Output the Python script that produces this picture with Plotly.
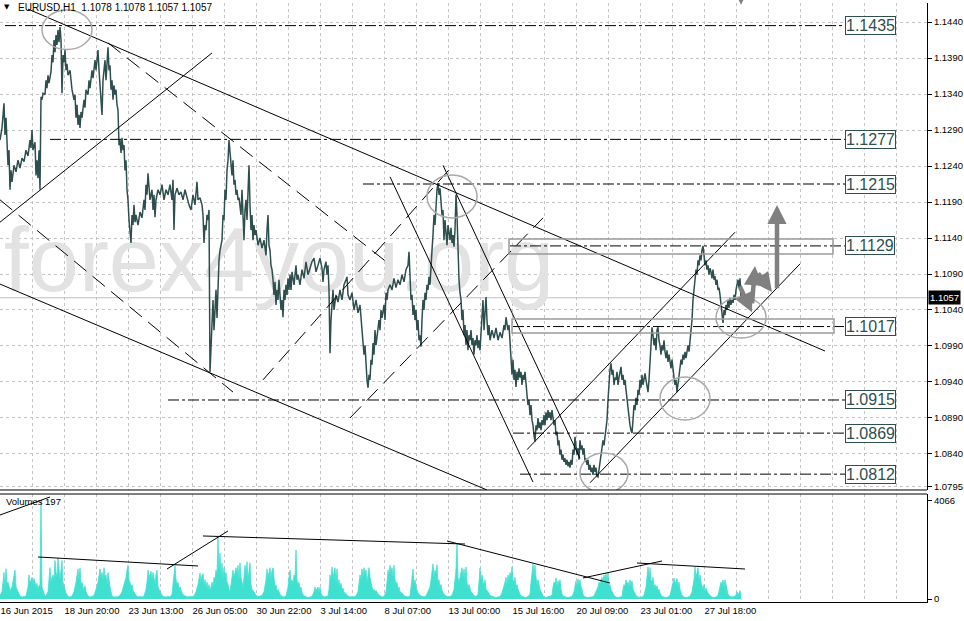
import plotly.graph_objects as go

# ---------------- data ----------------
# hourly bar index (0 = 16 Jun 2015 04:00) and close price
price_bars = [
    0, 2, 4, 5, 6, 8, 9, 10, 11, 12, 14, 16, 18, 20, 22, 24, 26, 28, 30, 31,
    32, 33, 35, 36, 37, 38, 39, 40, 41, 42, 43, 45, 46, 47, 48, 49, 51, 52, 53, 54,
    55, 56, 57, 58, 59, 60, 61, 62, 63, 64, 65, 66, 67, 68, 70, 72, 74, 75, 76, 77,
    78, 79, 80, 81, 82, 84, 85, 86, 88, 89, 90, 92, 93, 95, 96, 97, 98, 99, 100, 101,
    102, 103, 104, 105, 106, 107, 108, 109, 110, 111, 112, 113, 114, 115, 116, 117, 118, 119, 120, 121,
    122, 123, 124, 125, 126, 127, 128, 129, 130, 131, 132, 133, 134, 135, 136, 138, 140, 142, 144, 145,
    146, 147, 148, 149, 150, 152, 153, 154, 155, 156, 158, 160, 162, 164, 166, 168, 170, 172, 173, 174,
    175, 177, 179, 181, 183, 185, 187, 189, 191, 193, 195, 197, 198, 200, 202, 203, 204, 205, 206, 207,
    208, 209, 210, 211, 212, 213, 214, 215, 216, 217, 218, 219, 220, 221, 222, 223, 224, 225, 226, 227,
    228, 229, 230, 231, 232, 233, 234, 235, 236, 237, 238, 239, 240, 241, 242, 243, 244, 245, 246, 247,
    248, 249, 250, 251, 252, 253, 254, 255, 256, 258, 260, 262, 264, 266, 267, 268, 269, 270, 271, 272,
    273, 274, 275, 276, 277, 278, 279, 280, 281, 282, 283, 284, 285, 286, 287, 288, 289, 290, 291, 292,
    294, 296, 297, 298, 300, 302, 304, 306, 308, 310, 312, 314, 316, 318, 320, 322, 323, 324, 326, 327,
    328, 329, 330, 331, 332, 333, 334, 336, 338, 340, 342, 344, 346, 347, 348, 350, 352, 354, 356, 358,
    360, 361, 362, 363, 364, 365, 366, 367, 368, 369, 370, 371, 372, 373, 374, 375, 376, 377, 379, 380,
    381, 382, 384, 385, 386, 387, 388, 390, 392, 394, 396, 398, 400, 402, 404, 406, 408, 409, 410, 411,
    412, 413, 414, 415, 416, 417, 418, 419, 420, 421, 422, 423, 424, 425, 426, 427, 428, 429, 430, 431,
    432, 433, 434, 435, 436, 437, 438, 439, 440, 441, 442, 443, 444, 445, 446, 447, 448, 449, 450, 451,
    452, 453, 454, 455, 456, 457, 458, 459, 460, 461, 462, 463, 464, 465, 466, 467, 468, 469, 470, 471,
    472, 473, 474, 475, 476, 477, 478, 479, 480, 481, 482, 483, 484, 485, 486, 487, 488, 489, 490, 492,
    494, 496, 498, 500, 502, 504, 505, 506, 507, 508, 509, 510, 511, 512, 513, 514, 515, 516, 517, 518,
    519, 520, 521, 522, 523, 524, 525, 526, 527, 528, 529, 530, 531, 532, 533, 534, 535, 536, 537, 538,
    539, 540, 541, 542, 543, 544, 545, 546, 547, 548, 549, 550, 551, 552, 553, 554, 555, 556, 557, 558,
    559, 560, 561, 562, 563, 564, 565, 566, 567, 568, 569, 570, 571, 572, 573, 574, 575, 576, 577, 578,
    579, 580, 581, 582, 583, 584, 585, 586, 587, 588, 589, 590, 591, 592, 593, 594, 595, 596, 597, 598,
    599, 600, 601, 602, 603, 604, 605, 606, 607, 608, 609, 610, 611, 612, 613, 614, 615, 616, 617, 618,
    619, 620, 621, 622, 623, 624, 625, 626, 627, 628, 629, 630, 631, 632, 633, 634, 635, 636, 637, 638,
    639, 640, 641, 642, 643, 644, 645, 646, 647, 648, 649, 650, 651, 652, 653, 654, 655, 656, 657, 658,
    659, 660, 661, 662, 663, 664, 665, 666, 667, 668, 669, 670, 671, 672, 673, 674, 675, 676, 677, 678,
    679, 680, 681, 682, 683, 684, 685, 686, 687, 688, 689, 690, 691, 692, 693, 694, 695, 696, 697, 698,
    699, 700, 701, 702, 703, 704, 705, 706, 707, 708, 709, 710, 711, 712, 713, 714, 715, 716, 717, 718,
    719, 720, 721, 722, 723, 724, 725, 726, 727, 728, 729, 730, 731, 732, 733, 734, 735, 736, 737, 738,
    739, 740, 741,
]
price_close = [
    1.1276, 1.1293, 1.1327, 1.1283, 1.1307, 1.1241, 1.1262, 1.1207, 1.1234, 1.1218, 1.1241, 1.1232, 1.1248, 1.1237, 1.1251, 1.1246, 1.1262, 1.1254, 1.1276, 1.1265,
    1.1290, 1.1262, 1.1273, 1.1227, 1.1248, 1.1223, 1.1262, 1.1207, 1.1336, 1.1332, 1.1341, 1.1339, 1.1359, 1.1348, 1.1366, 1.1355, 1.1371, 1.1394, 1.1384, 1.1415,
    1.1398, 1.1422, 1.1408, 1.1429, 1.1412, 1.1433, 1.1415, 1.1341, 1.1394, 1.1384, 1.1401, 1.1373, 1.1382, 1.1366, 1.1373, 1.1346, 1.1332, 1.1339, 1.1307, 1.1325,
    1.1297, 1.1311, 1.1293, 1.1315, 1.1307, 1.1332, 1.1321, 1.1346, 1.1339, 1.1359, 1.1348, 1.1373, 1.1362, 1.1387, 1.1373, 1.1394, 1.1401, 1.1373, 1.1352, 1.1332,
    1.1311, 1.1359, 1.1373, 1.1387, 1.1359, 1.1394, 1.1405, 1.1373, 1.1380, 1.1346, 1.1359, 1.1332, 1.1352, 1.1339, 1.1346, 1.1325, 1.1318, 1.1269, 1.1276, 1.1258,
    1.1279, 1.1262, 1.1269, 1.1234, 1.1248, 1.1207, 1.1193, 1.1165, 1.1144, 1.1133, 1.1172, 1.1158, 1.1186, 1.1162, 1.1172, 1.1158, 1.1176, 1.1168, 1.1193, 1.1179,
    1.1214, 1.1200, 1.1230, 1.1207, 1.1193, 1.1207, 1.1179, 1.1200, 1.1169, 1.1193, 1.1207, 1.1200, 1.1214, 1.1193, 1.1207, 1.1200, 1.1214, 1.1193, 1.1221, 1.1151,
    1.1200, 1.1209, 1.1200, 1.1204, 1.1193, 1.1207, 1.1196, 1.1186, 1.1179, 1.1200, 1.1186, 1.1218, 1.1193, 1.1196, 1.1186, 1.1172, 1.1133, 1.1158, 1.1151, 1.1172,
    1.1165, 1.1179, 1.0954, 1.0998, 1.1026, 1.1054, 1.1012, 1.1040, 1.1068, 1.1029, 1.1089, 1.1109, 1.1123, 1.1130, 1.1137, 1.1172, 1.1165, 1.1207, 1.1193, 1.1234,
    1.1248, 1.1276, 1.1262, 1.1241, 1.1227, 1.1248, 1.1214, 1.1221, 1.1200, 1.1207, 1.1193, 1.1196, 1.1186, 1.1172, 1.1207, 1.1151, 1.1137, 1.1179, 1.1193, 1.1165,
    1.1214, 1.1241, 1.1186, 1.1151, 1.1172, 1.1137, 1.1158, 1.1144, 1.1151, 1.1130, 1.1140, 1.1126, 1.1137, 1.1116, 1.1151, 1.1172, 1.1130, 1.1123, 1.1102, 1.1096,
    1.1082, 1.1061, 1.1079, 1.1047, 1.1068, 1.1054, 1.1082, 1.1061, 1.1040, 1.1054, 1.1030, 1.1068, 1.1054, 1.1075, 1.1061, 1.1084, 1.1068, 1.1089, 1.1068, 1.1093,
    1.1075, 1.1102, 1.1082, 1.1089, 1.1075, 1.1096, 1.1084, 1.1107, 1.1089, 1.1098, 1.1107, 1.1112, 1.1093, 1.1102, 1.1112, 1.1098, 1.1079, 1.1096, 1.1107, 1.1089,
    1.1102, 1.1068, 1.0980, 1.1026, 1.1054, 1.1068, 1.1040, 1.1061, 1.1051, 1.1068, 1.1054, 1.1075, 1.1082, 1.1086, 1.1061, 1.1054, 1.1064, 1.1040, 1.1054, 1.1036,
    1.1047, 1.1026, 1.1012, 1.0998, 1.0978, 1.0991, 1.0957, 1.0943, 1.0932, 1.0950, 1.0943, 1.0971, 1.0964, 1.0994, 1.0978, 1.1012, 1.0991, 1.1005, 1.1026, 1.1012,
    1.1040, 1.1029, 1.1047, 1.1026, 1.1064, 1.1054, 1.1068, 1.1075, 1.1068, 1.1084, 1.1071, 1.1082, 1.1075, 1.1089, 1.1079, 1.1096, 1.1102, 1.1121, 1.1082, 1.1054,
    1.1061, 1.1033, 1.1047, 1.1026, 1.1040, 1.1012, 1.1026, 1.0998, 1.1005, 1.0989, 1.1026, 1.1054, 1.1040, 1.1064, 1.1054, 1.1075, 1.1068, 1.1086, 1.1075, 1.1109,
    1.1123, 1.1144, 1.1172, 1.1158, 1.1193, 1.1207, 1.1216, 1.1200, 1.1209, 1.1186, 1.1172, 1.1179, 1.1137, 1.1165, 1.1151, 1.1130, 1.1158, 1.1144, 1.1137, 1.1154,
    1.1133, 1.1144, 1.1128, 1.1151, 1.1200, 1.1172, 1.1109, 1.1082, 1.1064, 1.1054, 1.1026, 1.1040, 1.1005, 1.1019, 1.0991, 1.1012, 1.0984, 1.1005, 1.0998, 1.1012,
    1.0991, 1.1001, 1.0978, 1.0998, 1.0991, 1.1005, 1.0987, 1.0998, 1.0984, 1.1012, 1.1040, 1.1054, 1.1012, 1.1033, 1.1058, 1.1026, 1.1005, 1.1019, 1.0998, 1.1012,
    1.1001, 1.1015, 1.0998, 1.1009, 1.1001, 1.1019, 1.1012, 1.1030, 1.1023, 1.1012, 1.1019, 1.0998, 1.0984, 1.0950, 1.0971, 1.0943, 1.0957, 1.0933, 1.0954, 1.0943,
    1.0959, 1.0946, 1.0954, 1.0936, 1.0950, 1.0943, 1.0954, 1.0929, 1.0922, 1.0908, 1.0915, 1.0894, 1.0908, 1.0887, 1.0880, 1.0866, 1.0857, 1.0880, 1.0873, 1.0890,
    1.0876, 1.0884, 1.0873, 1.0887, 1.0880, 1.0894, 1.0880, 1.0898, 1.0887, 1.0901, 1.0890, 1.0898, 1.0887, 1.0901, 1.0890, 1.0880, 1.0887, 1.0866, 1.0871, 1.0852,
    1.0859, 1.0839, 1.0846, 1.0832, 1.0839, 1.0829, 1.0834, 1.0825, 1.0832, 1.0823, 1.0829, 1.0821, 1.0832, 1.0825, 1.0846, 1.0839, 1.0864, 1.0852, 1.0839, 1.0848,
    1.0832, 1.0859, 1.0846, 1.0852, 1.0839, 1.0848, 1.0829, 1.0834, 1.0825, 1.0832, 1.0818, 1.0825, 1.0815, 1.0821, 1.0811, 1.0825, 1.0815, 1.0821, 1.0809, 1.0808,
    1.0818, 1.0825, 1.0839, 1.0846, 1.0859, 1.0852, 1.0864, 1.0873, 1.0887, 1.0915, 1.0943, 1.0957, 1.0966, 1.0950, 1.0957, 1.0936, 1.0946, 1.0943, 1.0954, 1.0936,
    1.0946, 1.0957, 1.0961, 1.0943, 1.0950, 1.0936, 1.0943, 1.0929, 1.0915, 1.0901, 1.0887, 1.0880, 1.0873, 1.0869, 1.0887, 1.0908, 1.0901, 1.0918, 1.0908, 1.0929,
    1.0922, 1.0943, 1.0932, 1.0950, 1.0936, 1.0946, 1.0952, 1.0943, 1.0936, 1.0926, 1.0943, 1.0971, 1.0991, 1.1016, 1.1005, 1.0991, 1.1001, 1.0984, 1.1012, 1.1016,
    1.0998, 1.0991, 1.0978, 1.0991, 1.0984, 1.0998, 1.0982, 1.0973, 1.0984, 1.0968, 1.0978, 1.0971, 1.0959, 1.0971, 1.0954, 1.0946, 1.0936, 1.0943, 1.0926, 1.0936,
    1.0950, 1.0957, 1.0971, 1.0964, 1.0978, 1.0971, 1.0982, 1.0973, 1.0984, 1.0991, 1.0982, 1.0998, 1.1002, 1.1026, 1.1054, 1.1075, 1.1082, 1.1096, 1.1089, 1.1109,
    1.1102, 1.1116, 1.1109, 1.1123, 1.1129, 1.1116, 1.1102, 1.1109, 1.1096, 1.1102, 1.1089, 1.1098, 1.1093, 1.1084, 1.1096, 1.1082, 1.1087, 1.1075, 1.1082, 1.1068,
    1.1071, 1.1061, 1.1047, 1.1033, 1.1022, 1.1040, 1.1033, 1.1047, 1.1040, 1.1054, 1.1043, 1.1057, 1.1047, 1.1054, 1.1050, 1.1061, 1.1054, 1.1068, 1.1075, 1.1082,
    1.1071, 1.1084, 1.1057,
]

vol_bars = [
    0, 2, 4, 5, 6, 7, 8, 10, 12, 14, 15, 16, 18, 20, 22, 24, 26, 28, 29, 30,
    31, 32, 33, 34, 35, 36, 37, 38, 39, 40, 41, 42, 43, 44, 45, 46, 48, 50, 51, 52,
    53, 54, 55, 56, 57, 58, 59, 60, 61, 62, 63, 64, 65, 66, 68, 70, 72, 74, 76, 77,
    78, 79, 80, 81, 82, 83, 84, 85, 86, 88, 90, 92, 94, 96, 98, 100, 101, 102, 103, 104,
    105, 106, 107, 108, 109, 110, 111, 112, 114, 116, 118, 120, 122, 124, 126, 127, 128, 129, 130, 131,
    132, 133, 134, 136, 138, 140, 142, 144, 146, 147, 148, 149, 150, 151, 152, 153, 154, 155, 156, 157,
    158, 159, 160, 162, 164, 166, 168, 170, 172, 173, 174, 175, 176, 177, 178, 179, 180, 181, 182, 184,
    186, 188, 190, 192, 194, 196, 198, 199, 200, 201, 202, 203, 204, 205, 206, 207, 208, 209, 210, 211,
    212, 213, 214, 215, 216, 217, 218, 219, 220, 221, 222, 223, 224, 225, 226, 227, 228, 229, 230, 231,
    232, 233, 234, 235, 236, 237, 238, 239, 240, 241, 242, 243, 244, 245, 246, 247, 248, 249, 250, 251,
    252, 254, 256, 258, 260, 262, 264, 266, 267, 268, 269, 270, 271, 272, 273, 274, 275, 276, 277, 278,
    280, 282, 284, 286, 288, 289, 290, 291, 292, 293, 294, 295, 296, 297, 298, 299, 300, 301, 302, 304,
    306, 308, 310, 312, 314, 315, 316, 317, 318, 319, 320, 321, 322, 324, 326, 328, 329, 330, 331, 332,
    333, 334, 335, 336, 337, 338, 339, 340, 341, 342, 343, 344, 346, 348, 350, 352, 354, 356, 358, 359,
    360, 361, 362, 363, 364, 365, 366, 367, 368, 369, 370, 371, 372, 373, 374, 375, 376, 378, 380, 382,
    384, 386, 387, 388, 389, 390, 391, 392, 393, 394, 395, 396, 397, 398, 399, 400, 402, 404, 406, 408,
    410, 411, 412, 413, 414, 415, 416, 417, 418, 420, 422, 424, 426, 428, 430, 431, 432, 433, 434, 435,
    436, 437, 438, 439, 440, 441, 442, 444, 446, 448, 450, 452, 454, 455, 456, 457, 458, 459, 460, 461,
    462, 463, 464, 465, 466, 467, 468, 469, 470, 471, 472, 474, 476, 478, 479, 480, 481, 482, 483, 484,
    485, 486, 487, 488, 490, 492, 494, 496, 498, 500, 502, 504, 505, 506, 507, 508, 509, 510, 511, 512,
    513, 514, 515, 516, 517, 518, 519, 520, 522, 524, 526, 528, 530, 531, 532, 533, 534, 535, 536, 537,
    538, 539, 540, 541, 542, 544, 546, 548, 550, 552, 553, 554, 555, 556, 557, 558, 559, 560, 561, 562,
    564, 566, 568, 570, 572, 574, 575, 576, 577, 578, 579, 580, 581, 582, 583, 584, 586, 588, 590, 592,
    594, 596, 598, 599, 600, 601, 602, 603, 604, 605, 606, 607, 608, 609, 610, 611, 612, 614, 616, 618,
    620, 622, 623, 624, 625, 626, 627, 628, 629, 630, 631, 632, 633, 634, 636, 638, 640, 642, 644, 646,
    647, 648, 649, 650, 651, 652, 653, 654, 655, 656, 657, 658, 659, 660, 662, 664, 666, 668, 670, 672,
    673, 674, 675, 676, 677, 678, 679, 680, 681, 682, 684, 686, 688, 690, 692, 694, 695, 696, 697, 698,
    699, 700, 701, 702, 703, 704, 705, 706, 708, 710, 712, 714, 716, 718, 720, 721, 722, 723, 724, 725,
    726, 727, 728, 730, 732, 734, 736, 737, 738, 739, 740, 741,
]
vol_values = [
    150, 300, 1100, 400, 1250, 600, 700, 350, 500, 900, 1200, 500, 300, 120, 80, 100, 120, 500, 1000, 650,
    800, 900, 600, 850, 700, 500, 650, 400, 550, 600, 4066, 500, 350, 200, 120, 150, 300, 1300, 700, 900,
    1000, 800, 1600, 1100, 900, 1700, 1000, 800, 1200, 1600, 700, 500, 350, 250, 100, 80, 120, 300, 700, 1100,
    1250, 800, 1280, 600, 700, 500, 400, 550, 300, 120, 80, 100, 150, 400, 700, 1250, 900, 1100, 800, 1300,
    900, 1000, 600, 1100, 700, 500, 300, 120, 80, 100, 90, 150, 300, 600, 900, 1200, 1400, 800, 700, 500,
    600, 350, 300, 150, 80, 100, 80, 120, 400, 700, 1200, 900, 1000, 1150, 800, 1100, 900, 600, 1000, 1200,
    500, 400, 300, 150, 100, 80, 100, 80, 200, 700, 1000, 1400, 800, 600, 700, 400, 500, 300, 250, 150,
    100, 80, 100, 90, 120, 300, 600, 800, 1080, 700, 1000, 1050, 600, 800, 500, 700, 400, 600, 350, 500,
    700, 500, 900, 800, 1200, 1000, 2573, 1200, 1900, 1000, 1500, 800, 1300, 900, 1100, 700, 600, 400, 300, 600,
    1000, 1200, 900, 1100, 1300, 1000, 1400, 800, 1500, 900, 700, 500, 900, 1400, 1000, 1550, 800, 1200, 1500, 600,
    400, 300, 150, 100, 120, 150, 300, 800, 1250, 900, 1100, 1300, 800, 1200, 1290, 700, 500, 600, 300, 400,
    200, 100, 80, 120, 500, 900, 1200, 700, 800, 600, 1000, 900, 2034, 800, 600, 700, 400, 500, 250, 120,
    80, 60, 80, 100, 300, 500, 350, 450, 500, 300, 480, 250, 150, 80, 100, 120, 400, 1000, 800, 1330,
    900, 1100, 1300, 700, 1250, 600, 800, 500, 650, 400, 450, 300, 200, 120, 80, 100, 80, 120, 300, 600,
    1000, 800, 1250, 900, 1300, 1000, 1200, 700, 1100, 1300, 900, 600, 500, 350, 400, 300, 350, 200, 120, 80,
    100, 300, 700, 1200, 1000, 1400, 1100, 1300, 900, 1400, 800, 600, 700, 400, 500, 300, 250, 150, 100, 80,
    120, 600, 900, 1250, 600, 800, 500, 400, 250, 150, 100, 80, 120, 300, 500, 800, 1100, 1450, 900, 1200,
    1000, 1420, 700, 800, 500, 600, 350, 200, 120, 80, 100, 150, 400, 800, 1200, 2324, 900, 700, 900, 1100,
    1300, 900, 1250, 800, 1330, 700, 500, 600, 400, 300, 250, 150, 100, 200, 700, 1290, 800, 1000, 700, 600,
    800, 400, 350, 300, 150, 100, 80, 60, 80, 100, 250, 500, 700, 900, 600, 1000, 800, 1100, 900, 1330,
    800, 700, 900, 500, 600, 400, 300, 200, 100, 80, 60, 100, 200, 700, 1200, 1450, 1000, 1400, 900, 600,
    800, 500, 400, 300, 200, 80, 60, 80, 100, 150, 500, 700, 600, 870, 500, 750, 600, 800, 400, 200,
    100, 80, 60, 80, 100, 300, 600, 750, 500, 830, 600, 800, 500, 400, 200, 100, 80, 60, 80, 80,
    120, 300, 500, 700, 600, 800, 900, 700, 1000, 800, 1080, 700, 1080, 500, 600, 400, 300, 150, 80, 60,
    80, 100, 400, 600, 500, 790, 600, 700, 500, 800, 550, 750, 400, 300, 150, 80, 60, 80, 150, 500,
    1000, 1330, 900, 1300, 800, 700, 900, 500, 600, 450, 550, 350, 400, 250, 100, 80, 60, 80, 150, 500,
    700, 870, 600, 800, 850, 500, 700, 400, 300, 150, 80, 60, 80, 100, 300, 800, 1330, 900, 1100, 1300,
    800, 1000, 700, 500, 400, 600, 300, 450, 250, 150, 80, 60, 80, 150, 500, 700, 600, 790, 500, 800,
    600, 400, 200, 100, 80, 100, 150, 300, 200, 250, 350, 150,
]

x_label_bars = [0, 64, 128, 192, 256, 320, 384, 448, 512, 576, 640, 704]
x_label_text = ["16 Jun 2015", "18 Jun 20:00", "23 Jun 13:00", "26 Jun 05:00",
                "30 Jun 22:00", "3 Jul 14:00", "8 Jul 07:00", "13 Jul 00:00",
                "15 Jul 16:00", "20 Jul 09:00", "23 Jul 01:00", "27 Jul 18:00"]
price_ticks = [1.1440, 1.1390, 1.1340, 1.1290, 1.1240, 1.1190, 1.1140,
               1.1090, 1.1040, 1.0990, 1.0940, 1.0890, 1.0840, 1.0795]
volume_max = 4066
last_price = 1.1057
header_text = "EURUSD,H1  1.1078 1.1078 1.1057 1.1057"

levels = [1.1435, 1.1277, 1.1215, 1.1129, 1.1017, 1.0915, 1.0869, 1.0812]
level_from_bar = [5, 50, 363, 510, 513, 168, 513, 520]

# trendlines: (bar0, price0, bar1, price1)
solid_trends = [(28, 1.1458, 825, 1.0983), (0, 1.1076, 487, 1.0790),
                (0, 1.1162, 212, 1.1397), (390, 1.1225, 533, 1.0801),
                (443, 1.1241, 580, 1.0834), (527, 1.0846, 735, 1.1148),
                (590, 1.0800, 800, 1.1104)]
dashed_trends = [(0, 1.1193, 233, 1.0926), (108, 1.1411, 390, 1.1103),
                 (263, 1.0943, 453, 1.1241), (350, 1.0890, 543, 1.1168)]
volume_trends = [(0, 3486, 50, 4233), (38, 1743, 198, 1370), (167, 1245, 228, 2822),
                 (203, 2615, 465, 2282), (447, 2407, 610, 664), (583, 872, 662, 1577),
                 (637, 1494, 745, 1245)]
zones = [(509, 1.11386, 833, 1.11178), (512, 1.10275, 834, 1.10081)]
ellipses = [(42, 1.14567, 92, 1.14017), (427, 1.12275, 477, 1.11678),
            (660, 1.09469, 710, 1.08872), (716, 1.10581, 766, 1.10011),
            (580, 1.08414, 628, 1.07858)]
# gray forecast arrows: (tail bar, tail price, head bar, head price)
forecast_arrows = [(739, 1.1075, 752, 1.1037), (752, 1.1047, 755, 1.1101),
                   (757, 1.1093, 772, 1.1065), (777, 1.1068, 777, 1.1186),
                   (741, 1.1495, 741, 1.1464)]

# ---------------- figure ----------------
FONT = "Liberation Sans"
MAIN_BOTTOM = 0.187
VOL_TOP = 0.1803

fig = go.Figure()

fig.add_trace(go.Scatter(
    x=[279], y=[1.1098], mode="text", text=["forex4you.org"],
    textfont=dict(family=FONT, size=90, color="#e2e2e2"),
    hoverinfo="skip", showlegend=False, xaxis="x", yaxis="y"))

fig.add_trace(go.Scatter(
    x=vol_bars, y=vol_values, mode="lines", fill="tozeroy",
    line=dict(color="#40e0d0", width=0.8), fillcolor="#40e0d0",
    hoverinfo="skip", showlegend=False, xaxis="x", yaxis="y2"))

fig.add_trace(go.Scatter(
    x=price_bars, y=price_close, mode="lines",
    line=dict(color="#2f4f4f", width=1.5),
    showlegend=False, xaxis="x", yaxis="y"))

shapes = []
shapes.append(dict(type="line", xref="paper", yref="y", x0=0, x1=1,
                   y0=last_price, y1=last_price, line=dict(color="#c0c0c0", width=1),
                   layer="below"))
for lv, x0 in zip(levels, level_from_bar):
    shapes.append(dict(type="line", xref="x", yref="y", x0=x0, x1=845, y0=lv, y1=lv,
                       line=dict(color="black", width=1, dash="11px,3px,3px,3px")))
for (a, p, b, q) in solid_trends:
    shapes.append(dict(type="line", xref="x", yref="y", x0=a, y0=p, x1=b, y1=q,
                       line=dict(color="black", width=1)))
for (a, p, b, q) in dashed_trends:
    shapes.append(dict(type="line", xref="x", yref="y", x0=a, y0=p, x1=b, y1=q,
                       line=dict(color="black", width=1, dash="16px,8px")))
for (a, p, b, q) in volume_trends:
    shapes.append(dict(type="line", xref="x", yref="y2", x0=a, y0=p, x1=b, y1=q,
                       line=dict(color="black", width=1)))
for (a, p, b, q) in zones:
    shapes.append(dict(type="rect", xref="x", yref="y", x0=a, y0=p, x1=b, y1=q,
                       line=dict(color="#9a9a9a", width=1.5)))
for (a, p, b, q) in ellipses:
    shapes.append(dict(type="circle", xref="x", yref="y", x0=a, y0=p, x1=b, y1=q,
                       line=dict(color="#a8a8a8", width=1.5)))
for yy in (MAIN_BOTTOM, VOL_TOP):
    shapes.append(dict(type="line", xref="paper", yref="paper", x0=0, x1=1, y0=yy, y1=yy,
                       line=dict(color="black", width=1)))

annotations = []
for lv in levels:
    annotations.append(dict(x=870, y=lv, xref="x", yref="y", text=f"{lv:.4f}",
                            showarrow=False, xanchor="center", yanchor="middle",
                            font=dict(family=FONT, size=16, color="#2f4f4f"),
                            bgcolor="white", bordercolor="#2f4f4f", borderwidth=1,
                            borderpad=0))
for (a, p, b, q) in forecast_arrows:
    annotations.append(dict(x=b, y=q, ax=a, ay=p, xref="x", yref="y", axref="x", ayref="y",
                            text="", showarrow=True, arrowhead=2, arrowsize=0.85,
                            arrowwidth=4.5, arrowcolor="#808080", standoff=0))
annotations.append(dict(x=1, y=last_price, xref="paper", yref="y", text=f"{last_price:.4f}",
                        showarrow=False, xanchor="left", yanchor="middle", xshift=1,
                        font=dict(family=FONT, size=9.5, color="white"),
                        bgcolor="black", borderpad=1))
annotations.append(dict(x=16 / 927, y=0.9933, xref="paper", yref="paper", text=header_text,
                        showarrow=False, xanchor="left", yanchor="middle",
                        font=dict(family=FONT, size=10, color="black")))
annotations.append(dict(x=7 / 927, y=0.9933, xref="paper", yref="paper", text="▼",
                        showarrow=False, xanchor="center", yanchor="middle",
                        font=dict(family="DejaVu Sans", size=7, color="black")))
annotations.append(dict(x=4 / 927, y=0.168, xref="paper", yref="paper", text="Volumes 197",
                        showarrow=False, xanchor="left", yanchor="middle",
                        font=dict(family=FONT, size=9.5, color="black")))

grid_bars = [32 * i for i in range(29)]
grid_text = []
for g in grid_bars:
    grid_text.append(x_label_text[x_label_bars.index(g)] if g in x_label_bars else "")

tickfont = dict(family=FONT, size=9.5, color="black")

fig.update_layout(
    width=964, height=621,
    margin=dict(l=0, r=37, t=3, b=19),
    paper_bgcolor="white", plot_bgcolor="white",
    showlegend=False,
    shapes=shapes, annotations=annotations,
    xaxis=dict(range=[0, 927], domain=[0, 1], anchor="y2",
               tickmode="array", tickvals=grid_bars, ticktext=grid_text,
               ticklabelposition="outside right", ticks="",
               showgrid=True, gridcolor="#c4c4c4", griddash="dot", gridwidth=1,
               showline=True, linecolor="black", linewidth=1, zeroline=False,
               tickfont=tickfont, fixedrange=True),
    yaxis=dict(domain=[MAIN_BOTTOM, 1], range=[1.0790, 1.14664], side="right", anchor="x",
               tickmode="array", tickvals=price_ticks,
               ticktext=[f"{v:.4f}" for v in price_ticks],
               ticks="outside", ticklen=4, tickcolor="black",
               showline=True, linecolor="black", linewidth=1,
               showgrid=True, gridcolor="#c4c4c4", griddash="dot", gridwidth=1,
               zeroline=False, tickfont=tickfont, fixedrange=True),
    yaxis2=dict(domain=[0, VOL_TOP], range=[-124, 4356], side="right", anchor="x",
                tickmode="array", tickvals=[0, volume_max],
                ticktext=["0", str(volume_max)],
                ticks="outside", ticklen=4, tickcolor="black",
                showline=True, linecolor="black", linewidth=1,
                showgrid=False, zeroline=False, tickfont=tickfont, fixedrange=True),
)

fig.write_html("out.html", config={"displayModeBar": False},
               post_script="document.body.style.margin='0';document.body.style.overflow='hidden';")
